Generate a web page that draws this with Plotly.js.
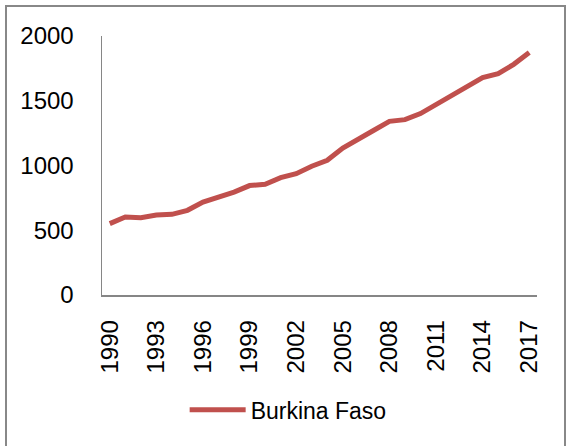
<!DOCTYPE html>
<html>
<head>
<meta charset="utf-8">
<script src="https://cdn.plot.ly/plotly-3.0.1.min.js"></script>
<style>html,body{margin:0;padding:0;background:#fff;}#chart{width:568px;height:446px;}</style>
</head>
<body>
<div id="chart"></div>
<script>
const years = ["1990","1991","1992","1993","1994","1995","1996","1997","1998","1999","2000","2001","2002","2003","2004","2005","2006","2007","2008","2009","2010","2011","2012","2013","2014","2015","2016","2017"];
const burkinaFaso = [551,602,597,618,623,654,718,757,795,845,855,906,937,994,1040,1135,1208,1272,1341,1354,1401,1470,1550,1619,1679,1710,1781,1872];
const xTickLabels = ["1990","1993","1996","1999","2002","2005","2008","2011","2014","2017"];
const yTickValues = [0,500,1000,1500,2000];
const seriesName = "Burkina Faso";

const font = {family: "Liberation Sans, Arial, sans-serif", size: 24, color: "#000"};
const trace = {
  x: years, y: burkinaFaso, type: "scatter", mode: "lines", name: seriesName,
  line: {color: "#C0504D", width: 5}
};
const layout = {
  width: 568, height: 446,
  margin: {l: 102, r: 31, t: 36, b: 151},
  paper_bgcolor: "#fff", plot_bgcolor: "#fff",
  font: font,
  showlegend: true,
  legend: {orientation: "h", x: 0.19, y: -0.36, xanchor: "left", yanchor: "top",
           font: {family: font.family, size: 23, color: "#000"}, itemwidth: 56, bgcolor: "rgba(0,0,0,0)"},
  xaxis: {type: "category", range: [-0.5, years.length - 0.5], tickvals: xTickLabels, ticktext: xTickLabels, tickangle: -90,
          showline: true, linecolor: "#868686", linewidth: 1.5, showgrid: false, zeroline: false,
          ticks: "outside", ticklen: 14, tickcolor: "rgba(0,0,0,0)", tickfont: font, fixedrange: true},
  yaxis: {range: [0, 2000], tickvals: yTickValues, showline: true, linecolor: "#868686", linewidth: 1.5,
          showgrid: false, zeroline: false, ticks: "outside", ticklen: 22, tickcolor: "rgba(0,0,0,0)",
          tickfont: font, fixedrange: true},
  shapes: [{type: "rect", xref: "paper", yref: "paper",
            x0: (6-102)/435, x1: (565-102)/435, y0: (295-452)/259, y1: (295-6)/259,
            line: {color: "#888888", width: 2}, fillcolor: "rgba(0,0,0,0)", layer: "below"}]
};
Plotly.newPlot("chart", [trace], layout, {displayModeBar: false, staticPlot: true});
</script>
</body>
</html>
